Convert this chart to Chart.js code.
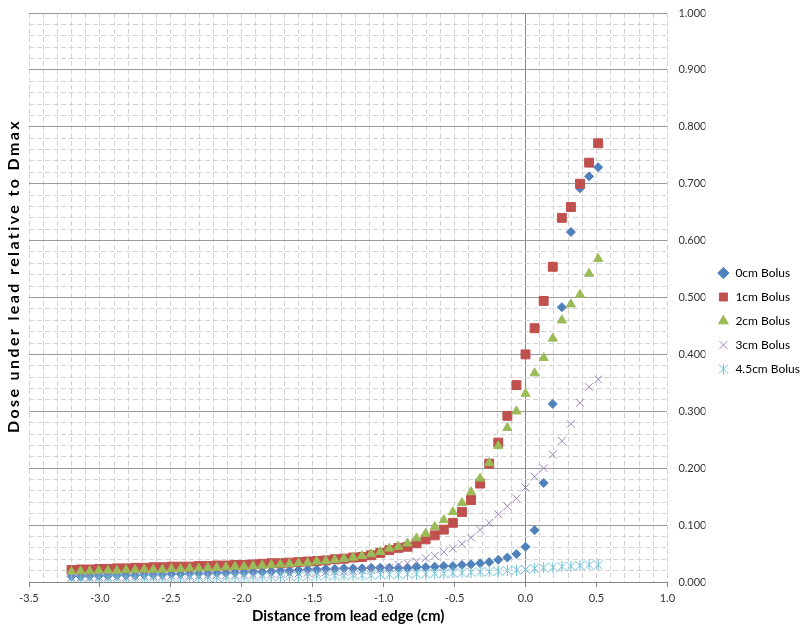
<!DOCTYPE html>
<html>
<head>
<meta charset="utf-8">
<script src="https://cdn.jsdelivr.net/npm/chart.js@4/dist/chart.umd.min.js"></script>
<style>
  html, body { margin: 0; padding: 0; background: #fff; }
  #wrap { width: 800px; height: 629px; }
</style>
</head>
<body>
<div id="wrap"><canvas id="doseChart"></canvas></div>
<script>
// distance from lead edge (cm)
const distances = [
  -3.200, -3.136, -3.072, -3.008, -2.944, -2.880, -2.816, -2.752, -2.688, -2.624,
  -2.560, -2.496, -2.432, -2.368, -2.304, -2.240, -2.176, -2.112, -2.048, -1.984,
  -1.920, -1.856, -1.792, -1.728, -1.664, -1.600, -1.536, -1.472, -1.408, -1.344,
  -1.280, -1.216, -1.152, -1.088, -1.024, -0.960, -0.896, -0.832, -0.768, -0.704,
  -0.640, -0.576, -0.512, -0.448, -0.384, -0.320, -0.256, -0.192, -0.128, -0.064,
  0.000, 0.064, 0.128, 0.192, 0.256, 0.320, 0.384, 0.448, 0.512
];

const bolus0 = [
  0.010, 0.010, 0.011, 0.011, 0.011, 0.012, 0.012, 0.012, 0.013, 0.013,
  0.013, 0.014, 0.014, 0.015, 0.015, 0.015, 0.016, 0.016, 0.017, 0.017,
  0.018, 0.018, 0.019, 0.020, 0.020, 0.021, 0.022, 0.022, 0.023, 0.023,
  0.024, 0.024, 0.024, 0.025, 0.025, 0.025, 0.025, 0.025, 0.026, 0.026,
  0.027, 0.028, 0.028, 0.030, 0.031, 0.033, 0.035, 0.039, 0.043, 0.049,
  0.062, 0.091, 0.174, 0.313, 0.483, 0.615, 0.692, 0.713, 0.729
];
const bolus1 = [
  0.021, 0.022, 0.022, 0.023, 0.023, 0.024, 0.024, 0.025, 0.025, 0.026,
  0.026, 0.027, 0.027, 0.027, 0.028, 0.028, 0.029, 0.029, 0.030, 0.030,
  0.031, 0.032, 0.033, 0.033, 0.034, 0.035, 0.036, 0.037, 0.038, 0.040,
  0.041, 0.043, 0.044, 0.047, 0.051, 0.056, 0.060, 0.062, 0.068, 0.075,
  0.082, 0.092, 0.104, 0.123, 0.144, 0.173, 0.208, 0.245, 0.292, 0.346,
  0.400, 0.446, 0.494, 0.554, 0.640, 0.659, 0.700, 0.737, 0.771
];
const bolus2 = [
  0.018, 0.019, 0.019, 0.020, 0.020, 0.020, 0.021, 0.021, 0.022, 0.022,
  0.022, 0.023, 0.023, 0.024, 0.024, 0.025, 0.025, 0.026, 0.027, 0.027,
  0.028, 0.029, 0.030, 0.031, 0.032, 0.033, 0.034, 0.036, 0.037, 0.039,
  0.041, 0.043, 0.046, 0.049, 0.053, 0.059, 0.062, 0.068, 0.077, 0.085,
  0.097, 0.109, 0.123, 0.139, 0.158, 0.182, 0.209, 0.239, 0.271, 0.300,
  0.331, 0.367, 0.394, 0.428, 0.460, 0.488, 0.505, 0.542, 0.568
];
const bolus3 = [
  0.008, 0.008, 0.008, 0.009, 0.009, 0.009, 0.009, 0.010, 0.010, 0.010,
  0.010, 0.011, 0.011, 0.011, 0.011, 0.012, 0.012, 0.012, 0.012, 0.013,
  0.013, 0.013, 0.014, 0.014, 0.015, 0.015, 0.016, 0.016, 0.017, 0.018,
  0.018, 0.019, 0.020, 0.021, 0.022, 0.025, 0.030, 0.033, 0.036, 0.042,
  0.046, 0.053, 0.059, 0.067, 0.078, 0.092, 0.104, 0.119, 0.133, 0.147,
  0.166, 0.185, 0.200, 0.224, 0.248, 0.278, 0.315, 0.343, 0.356
];
const bolus45 = [
  0.005, 0.005, 0.005, 0.006, 0.006, 0.006, 0.006, 0.006, 0.007, 0.007,
  0.007, 0.007, 0.007, 0.008, 0.008, 0.008, 0.008, 0.008, 0.009, 0.009,
  0.009, 0.009, 0.009, 0.010, 0.010, 0.010, 0.010, 0.011, 0.011, 0.011,
  0.011, 0.012, 0.012, 0.012, 0.013, 0.013, 0.013, 0.014, 0.014, 0.014,
  0.015, 0.015, 0.016, 0.016, 0.017, 0.018, 0.018, 0.019, 0.020, 0.021,
  0.022, 0.024, 0.025, 0.026, 0.027, 0.028, 0.029, 0.030, 0.030
];

const seriesNames = ["0cm Bolus", "1cm Bolus", "2cm Bolus", "3cm Bolus", "4.5cm Bolus"];
const xTitle = "Distance from lead edge (cm)";
const yTitle = "Dose under lead relative to Dmax";

const FONT = "Lato, 'Open Sans', sans-serif";
Chart.defaults.font.family = FONT;

function pairs(ys) {
  return distances.map((x, i) => ({ x: x, y: ys[i] }));
}

// excel style star marker: X with a vertical bar
function starMarker(color) {
  const s = 11;
  const c = document.createElement("canvas");
  c.width = s; c.height = s;
  const g = c.getContext("2d");
  g.strokeStyle = color;
  g.lineWidth = 1;
  g.beginPath();
  g.moveTo(1, 1); g.lineTo(s - 1, s - 1);
  g.moveTo(s - 1, 1); g.lineTo(1, s - 1);
  g.moveTo(5.5, 0); g.lineTo(5.5, s);
  g.stroke();
  return c;
}

const isTenth = v => Math.abs(v * 10 - Math.round(v * 10)) < 1e-6;

const yTitlePlugin = {
  id: "yTitle",
  afterDraw(chart) {
    const ctx = chart.ctx;
    ctx.save();
    ctx.font = "bold 16px " + FONT;
    ctx.fillStyle = "#000";
    ctx.textAlign = "center";
    ctx.textBaseline = "middle";
    const w = ctx.measureText(yTitle).width;
    ctx.letterSpacing = Math.max(0, (312 - w) / (yTitle.length - 1)) + "px";
    ctx.translate(14, 276);
    ctx.rotate(-Math.PI / 2);
    ctx.fillText(yTitle, 0, 0);
    ctx.restore();
  }
};

const ctx = document.getElementById("doseChart").getContext("2d");

new Chart(ctx, {
  type: "scatter",
  data: {
    datasets: [
      {
        label: seriesNames[0], data: pairs(bolus0), order: 5,
        pointStyle: "rectRot", pointRadius: 4.5,
        backgroundColor: "#4F81BD", borderColor: "#4F81BD", borderWidth: 1
      },
      {
        label: seriesNames[1], data: pairs(bolus1), order: 4,
        pointStyle: "rect", pointRadius: 6.3,
        backgroundColor: "#C0504D", borderColor: "#C0504D", borderWidth: 1
      },
      {
        label: seriesNames[2], data: pairs(bolus2), order: 3,
        pointStyle: "triangle", pointRadius: 5.3,
        backgroundColor: "#9BBB59", borderColor: "#9BBB59", borderWidth: 1
      },
      {
        label: seriesNames[3], data: pairs(bolus3), order: 2,
        pointStyle: "crossRot", pointRadius: 5.5,
        backgroundColor: "#9A86BE", borderColor: "#9A86BE", borderWidth: 1
      },
      {
        label: seriesNames[4], data: pairs(bolus45), order: 1,
        pointStyle: starMarker("#6CC0D6"),
        backgroundColor: "#6CC0D6", borderColor: "#6CC0D6", borderWidth: 1
      }
    ].map(d => Object.assign(d, { xAxisID: "x", yAxisID: "y", pointHoverRadius: d.pointRadius }))
  },
  options: {
    responsive: true,
    maintainAspectRatio: false,
    animation: false,
    layout: { padding: { left: 29, top: 13, right: -10, bottom: 0 } },
    plugins: {
      tooltip: { enabled: false },
      legend: {
        position: "right",
        labels: {
          usePointStyle: true,
          boxHeight: 8,
          padding: 12,
          color: "#000",
          font: { size: 12 },
          sort: (a, b) => a.datasetIndex - b.datasetIndex
        }
      }
    },
    scales: {
      x: {
        type: "linear",
        position: "bottom",
        min: -3.5, max: 1.0,
        ticks: {
          stepSize: 0.5, padding: 5, color: "#333", font: { size: 11 },
          callback: v => v.toFixed(1)
        },
        grid: { drawOnChartArea: false, drawTicks: true, tickLength: 5, tickColor: "#868686" },
        border: { color: "#868686" },
        title: {
          display: true, text: xTitle, color: "#000",
          font: { size: 15, weight: "bold" }
        },
        afterFit: s => { s.height = 47; }
      },
      xMinor: {
        type: "linear", axis: "x",
        position: "bottom",
        min: -3.5, max: 1.0,
        ticks: { display: false, stepSize: 0.1 },
        grid: {
          drawTicks: false,
          color: c => (c.tick && Math.abs(c.tick.value) < 1e-6) ? "rgba(0,0,0,0)" : "#d3d3d3"
        },
        border: { display: false, dash: [5, 3] },
        afterFit: s => { s.height = 0; }
      },
      xZero: {
        type: "linear", axis: "x",
        position: "bottom",
        min: -3.5, max: 1.0,
        ticks: { display: false },
        afterBuildTicks: s => { s.ticks = [{ value: 0 }]; },
        grid: { drawTicks: false, color: "#868686" },
        border: { display: false },
        afterFit: s => { s.height = 0; }
      },
      yMinor: {
        type: "linear", axis: "y",
        position: "right",
        min: 0, max: 1.0,
        ticks: { display: false, stepSize: 0.02 },
        grid: {
          drawTicks: false,
          color: c => (c.tick && isTenth(c.tick.value)) ? "rgba(0,0,0,0)" : "#d3d3d3"
        },
        border: { display: false, dash: [5, 3] },
        afterFit: s => { s.width = 0; s.paddingTop = 0; s.paddingBottom = 0; }
      },
      y: {
        type: "linear",
        position: "right",
        min: 0, max: 1.0,
        ticks: {
          stepSize: 0.1, padding: 11, color: "#333", font: { size: 11 },
          callback: v => v.toFixed(3)
        },
        grid: { drawTicks: false, color: "#9a9a9a" },
        border: { display: false },
        afterFit: s => { s.width = 38; s.paddingTop = 0; s.paddingBottom = 0; }
      }
    }
  },
  plugins: [yTitlePlugin]
});
</script>
</body>
</html>
